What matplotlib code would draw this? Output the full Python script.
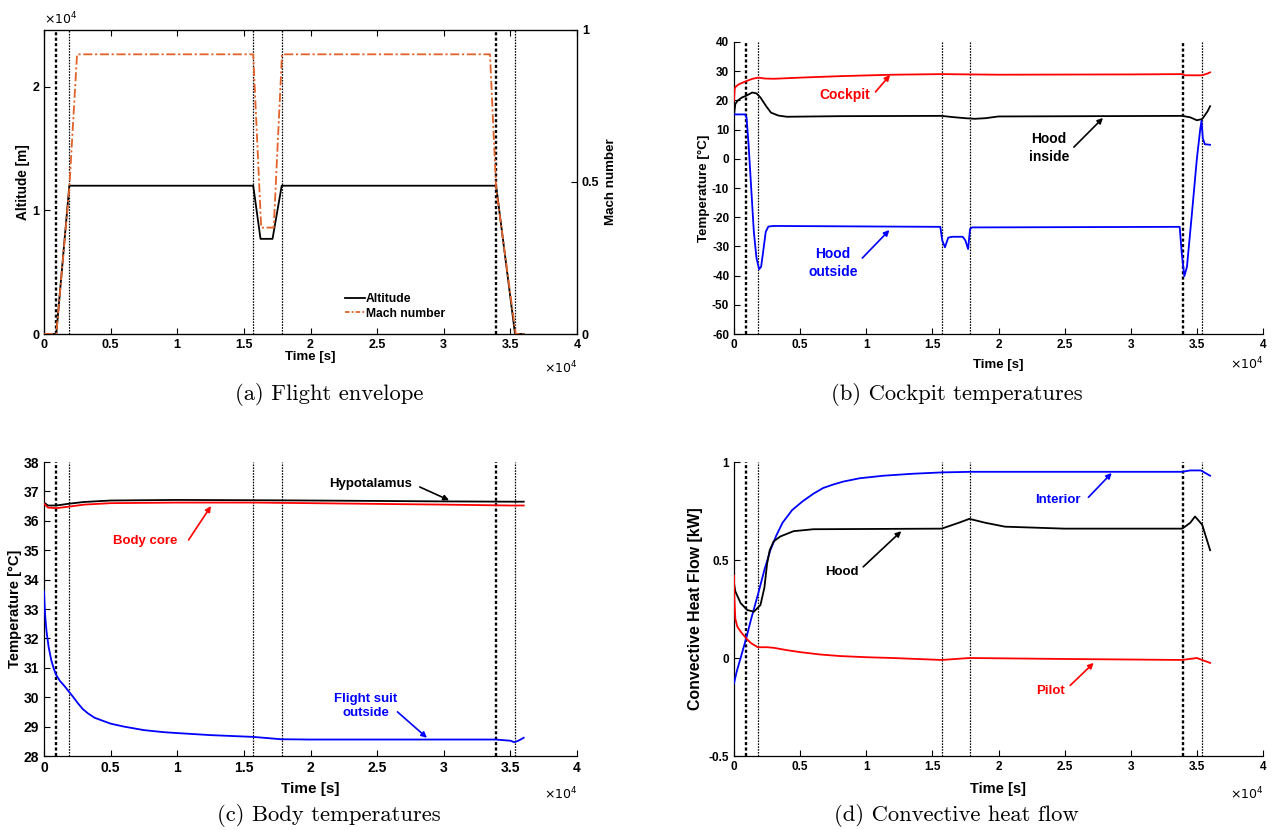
import matplotlib
matplotlib.use("Agg")
import matplotlib.pyplot as plt
from matplotlib.ticker import FuncFormatter, FixedLocator
from matplotlib.lines import Line2D

plt.rcParams['font.family'] = ['Liberation Sans', 'DejaVu Sans']
plt.rcParams['axes.unicode_minus'] = False

# ---------------- data ----------------
# phase boundaries [s]
phase_t = [920, 1850, 15700, 17840, 33930, 35380]
phase_thick = [True, False, False, False, True, False]

# (a) flight envelope
alt_t = [0, 920, 1900, 15700, 16250, 17150, 17840, 33930, 35350, 36000]
alt_v = [0, 0, 12000, 12000, 7700, 7700, 12000, 12000, 0, 0]
mach_t = [0, 920, 1900, 2480, 15700, 16300, 17240, 17860, 33470, 33930, 35400, 36000]
mach_v = [0, 0, 0.48, 0.92, 0.92, 0.35, 0.35, 0.92, 0.92, 0.48, 0, 0]

# (b) cockpit temperatures
cockpit_t = [0, 50, 150, 400, 920, 1400, 1850, 2300, 3000, 5000, 8000, 12000, 15700,
             20000, 30000, 33900, 34100, 35400, 35800, 36000]
cockpit_v = [20.0, 24.0, 24.8, 25.6, 26.6, 27.4, 27.8, 27.5, 27.4, 27.8, 28.3, 28.8, 29.0,
             28.8, 28.9, 29.0, 28.6, 28.6, 29.2, 29.6]
hood_in_t = [0, 100, 300, 600, 920, 1380, 1700, 2000, 2450, 2800, 3360, 4000, 8000, 15700,
             16500, 17500, 18200, 19000, 20000, 33900, 34500, 35000, 35400, 35800, 36000]
hood_in_v = [15.0, 18.8, 20.0, 21.0, 21.6, 22.7, 22.4, 21.0, 17.9, 15.8, 14.8, 14.4, 14.6, 14.7,
             14.3, 13.9, 13.7, 13.9, 14.5, 14.7, 14.2, 13.2, 13.6, 16.2, 18.0]
hood_out_t = [0, 850, 950, 1100, 1300, 1500, 1700, 1900, 2050, 2200, 2400, 2600, 3000, 15600,
              15750, 15950, 16200, 16500, 17300, 17500, 17700, 17850, 18000, 33700, 33850,
              34050, 34250, 34600, 35000, 35250, 35350, 35450, 35600, 36000]
hood_out_v = [15.2, 15.2, 14.0, 5.0, -10.0, -25.0, -34.0, -37.8, -37.0, -32.0, -25.0, -23.2,
              -23.0, -23.3, -28.0, -30.3, -27.0, -26.7, -26.7, -28.0, -30.9, -24.0, -23.5,
              -23.3, -32.0, -40.2, -37.0, -20.0, 0.0, 10.0, 13.0, 7.0, 5.0, 4.8]

# (c) body temperatures
hypo_t = [0, 300, 920, 1850, 3000, 5000, 10000, 15700, 20000, 30000, 35000, 36000]
hypo_v = [36.62, 36.52, 36.52, 36.58, 36.64, 36.69, 36.71, 36.70, 36.69, 36.66, 36.65, 36.65]
core_t = [0, 300, 920, 1850, 3000, 5000, 10000, 15700, 20000, 30000, 35000, 36000]
core_v = [36.58, 36.45, 36.43, 36.48, 36.55, 36.60, 36.62, 36.62, 36.60, 36.55, 36.52, 36.52]
suit_t = [0, 50, 100, 200, 350, 550, 750, 920, 1200, 1500, 1850, 2200, 2500, 2900, 3300,
          3800, 4400, 5000, 6000, 7500, 9000, 10000, 12500, 15700, 17800, 20000, 30000,
          33900, 35000, 35300, 35600, 36000]
suit_v = [33.6, 33.1, 32.7, 32.2, 31.7, 31.25, 30.95, 30.75, 30.55, 30.4, 30.2, 30.0, 29.82,
          29.6, 29.45, 29.3, 29.2, 29.1, 29.0, 28.88, 28.81, 28.78, 28.71, 28.65, 28.57,
          28.56, 28.56, 28.56, 28.52, 28.47, 28.52, 28.62]

# (d) convective heat flow
interior_t = [0, 200, 500, 920, 1300, 1835, 2300, 2750, 3200, 3670, 4400, 5200, 6000, 6730,
              7500, 8260, 9500, 11300, 13500, 15750, 18000, 33900, 34500, 35300, 36000]
interior_v = [-0.13, -0.07, 0.0, 0.10, 0.20, 0.33, 0.45, 0.55, 0.625, 0.69, 0.755, 0.80,
              0.838, 0.867, 0.885, 0.90, 0.917, 0.93, 0.94, 0.947, 0.95, 0.95, 0.957, 0.957,
              0.93]
hood_t = [0, 100, 500, 1000, 1500, 2000, 2300, 2500, 2700, 3000, 3500, 4500, 6000, 15700,
          17000, 17800, 19000, 20500, 25000, 33900, 34500, 34860, 35400, 36000]
hood_v = [0.38, 0.34, 0.28, 0.245, 0.236, 0.27, 0.36, 0.48, 0.55, 0.595, 0.62, 0.647, 0.657,
          0.66, 0.69, 0.71, 0.69, 0.67, 0.66, 0.66, 0.69, 0.722, 0.68, 0.55]
pilot_t = [0, 30, 100, 250, 500, 920, 1300, 1800, 2500, 3000, 4000, 5000, 6500, 8000, 10000,
           12000, 15700, 17800, 25000, 33900, 35000, 36000]
pilot_v = [0.42, 0.30, 0.20, 0.16, 0.135, 0.10, 0.075, 0.055, 0.055, 0.052, 0.04, 0.03,
           0.018, 0.01, 0.004, 0.0, -0.01, 0.0, -0.005, -0.01, 0.0, -0.025]

xticks = [0, 5000, 10000, 15000, 20000, 25000, 30000, 35000, 40000]

# ---------------- figure ----------------
fig = plt.figure(figsize=(12.75, 8.3), dpi=100)

def fig_rect(l, r, t, b):
    return [l / 1275, 1 - b / 830, (r - l) / 1275, (b - t) / 830]

axA = fig.add_axes(fig_rect(44, 577, 30, 334))
axB = fig.add_axes(fig_rect(734, 1263, 42, 334))
axC = fig.add_axes(fig_rect(44, 577, 462, 756))
axD = fig.add_axes(fig_rect(734, 1263, 462, 756))

tfmt = FuncFormatter(lambda v, p: ('%g' % (v / 1e4)))
BOLD = dict(fontweight='bold')

def phase_lines(ax):
    for t, thick in zip(phase_t, phase_thick):
        ax.axvline(t, color='black', lw=1.7 if thick else 0.9,
                   ls=(0, (1.3, 1.0)), zorder=1)

def base_axes(ax, tick_fs=8.5, box=False, off_y=-0.1):
    ax.set_xlim(0, 40000)
    ax.xaxis.set_major_locator(FixedLocator(xticks))
    ax.xaxis.set_major_formatter(tfmt)
    ax.tick_params(direction='in', length=4, width=0.8, labelsize=tick_fs,
                   top=box, right=box)
    for lab in ax.get_xticklabels() + ax.get_yticklabels():
        lab.set_fontweight('bold')
    if not box:
        ax.spines['top'].set_visible(False)
        ax.spines['right'].set_visible(False)
    for s in ax.spines.values():
        s.set_linewidth(0.9)
    ax.text(1.0, off_y, r'$\times10^4$', transform=ax.transAxes,
            ha='right', va='top', fontsize=9)

# ---- (a)
phase_lines(axA)
axA.plot(alt_t, alt_v, color='black', lw=1.3, zorder=3)
axA.set_ylim(0, 24600)
axA.set_yticks([0, 10000, 20000])
axA.yaxis.set_major_formatter(tfmt)
base_axes(axA, tick_fs=9, box=True, off_y=-0.085)
axA.text(0.0, 1.01, r'$\times10^4$', transform=axA.transAxes, ha='left', va='bottom',
         fontsize=9)
axA.set_xlabel('Time [s]', fontsize=9.5, **BOLD)
axA.xaxis.set_label_coords(0.5, -0.055)
axA.set_ylabel('Altitude [m]', fontsize=9.8, **BOLD)
axA.yaxis.set_label_coords(-0.027, 0.5)
axA2 = axA.twinx()
axA2.plot(mach_t, mach_v, color='#E2622A', lw=1.3, ls=(0, (5, 1.5, 1.2, 1.5)), zorder=3)
axA2.set_ylim(0, 1)
axA2.set_yticks([0, 0.5, 1])
axA2.yaxis.set_major_formatter(FuncFormatter(lambda v, p: '%g' % v))
axA2.tick_params(direction='in', length=4, width=0.8, labelsize=9)
for lab in axA2.get_yticklabels():
    lab.set_fontweight('bold')
axA2.set_ylabel('Mach number', fontsize=9.6, **BOLD)
axA2.yaxis.set_label_coords(1.052, 0.5)
handles = [Line2D([], [], color='black', lw=1.3),
           Line2D([], [], color='#E2622A', lw=1.3, ls=(0, (2.5, 1.2, 1.0, 1.2)))]
axA.legend(handles, ['Altitude', 'Mach number'], loc='upper left',
           bbox_to_anchor=(0.545, 0.17), frameon=False,
           handlelength=1.6, handletextpad=0.1, labelspacing=0.2,
           prop=dict(weight='bold', size=8.7))

# ---- (b)
phase_lines(axB)
axB.plot(cockpit_t, cockpit_v, color='#FF0000', lw=1.3, zorder=3)
axB.plot(hood_in_t, hood_in_v, color='black', lw=1.3, zorder=3)
axB.plot(hood_out_t, hood_out_v, color='#0000FF', lw=1.3, zorder=3)
axB.set_ylim(-60, 40)
axB.set_yticks(list(range(-60, 41, 10)))
base_axes(axB, off_y=-0.075)
axB.set_xlabel('Time [s]', fontsize=9.5, **BOLD)
axB.xaxis.set_label_coords(0.5, -0.085)
axB.set_ylabel('Temperature [°C]', fontsize=9.6, **BOLD)
axB.yaxis.set_label_coords(-0.045, 0.5)

def note(ax, xy, xytext, color):
    ax.annotate('', xy=xy, xytext=xytext,
                arrowprops=dict(arrowstyle='-|>', color=color, lw=1.2,
                                mutation_scale=8, shrinkA=0, shrinkB=0), zorder=4)

def label(ax, x, y, text, color, fs=10):
    ax.text(x, y, text, color=color, fontsize=fs, fontweight='bold', ha='center',
            va='center', linespacing=1.3, zorder=5)

label(axB, 8400, 21.8, 'Cockpit', '#FF0000')
note(axB, (11800, 28.7), (10700, 22.9), '#FF0000')
label(axB, 23800, 3.7, 'Hood\ninside', 'black')
note(axB, (27900, 14.0), (25700, 4.0), 'black')
label(axB, 7500, -35.7, 'Hood\noutside', '#0000FF')
note(axB, (11750, -24.4), (9700, -34.0), '#0000FF')

# ---- (c)
phase_lines(axC)
axC.plot(hypo_t, hypo_v, color='black', lw=1.3, zorder=3)
axC.plot(core_t, core_v, color='#FF0000', lw=1.3, zorder=3)
axC.plot(suit_t, suit_v, color='#0000FF', lw=1.3, zorder=3)
axC.set_ylim(28, 38)
axC.set_yticks(list(range(28, 39)))
base_axes(axC, tick_fs=10)
axC.set_xlabel('Time [s]', fontsize=11, **BOLD)
axC.xaxis.set_label_coords(0.5, -0.09)
axC.set_ylabel('Temperature [°C]', fontsize=10.6, **BOLD)
axC.yaxis.set_label_coords(-0.041, 0.5)
label(axC, 24540, 37.25, 'Hypotalamus', 'black', fs=9.5)
note(axC, (30400, 36.7), (28200, 37.15), 'black')
label(axC, 7600, 35.3, 'Body core', '#FF0000', fs=9.5)
note(axC, (12530, 36.5), (10850, 35.35), '#FF0000')
label(axC, 24170, 29.7, 'Flight suit\noutside', '#0000FF', fs=9.5)
note(axC, (28740, 28.62), (26530, 29.5), '#0000FF')

# ---- (d)
phase_lines(axD)
axD.plot(interior_t, interior_v, color='#0000FF', lw=1.3, zorder=3)
axD.plot(hood_t, hood_v, color='black', lw=1.3, zorder=3)
axD.plot(pilot_t, pilot_v, color='#FF0000', lw=1.3, zorder=3)
axD.set_ylim(-0.5, 1)
axD.set_yticks([-0.5, 0, 0.5, 1])
axD.yaxis.set_major_formatter(FuncFormatter(lambda v, p: '%g' % v))
base_axes(axD)
axD.set_xlabel('Time [s]', fontsize=10.5, **BOLD)
axD.xaxis.set_label_coords(0.5, -0.09)
axD.set_ylabel('Convective Heat Flow [kW]', fontsize=11.4, **BOLD)
axD.yaxis.set_label_coords(-0.059, 0.5)
label(axD, 24470, 0.806, 'Interior', '#0000FF', fs=9.5)
note(axD, (28560, 0.944), (26800, 0.82), '#0000FF')
label(axD, 8140, 0.44, 'Hood', 'black', fs=9.5)
note(axD, (12650, 0.647), (9770, 0.465), 'black')
label(axD, 23940, -0.168, 'Pilot', '#FF0000', fs=9.5)
note(axD, (27200, -0.025), (25420, -0.14), '#FF0000')

# ---- captions
cap = dict(family=['cmr10', 'DejaVu Serif'], fontsize=16.3, ha='center', va='center')
fig.text(329 / 1275, 1 - 394 / 830, '(a) Flight envelope', **cap)
fig.text(957 / 1275, 1 - 394 / 830, '(b) Cockpit temperatures', **cap)
fig.text(329 / 1275, 1 - 815 / 830, '(c) Body temperatures', **cap)
fig.text(956 / 1275, 1 - 815 / 830, '(d) Convective heat flow', **cap)

fig.savefig('out.png', dpi=100)
